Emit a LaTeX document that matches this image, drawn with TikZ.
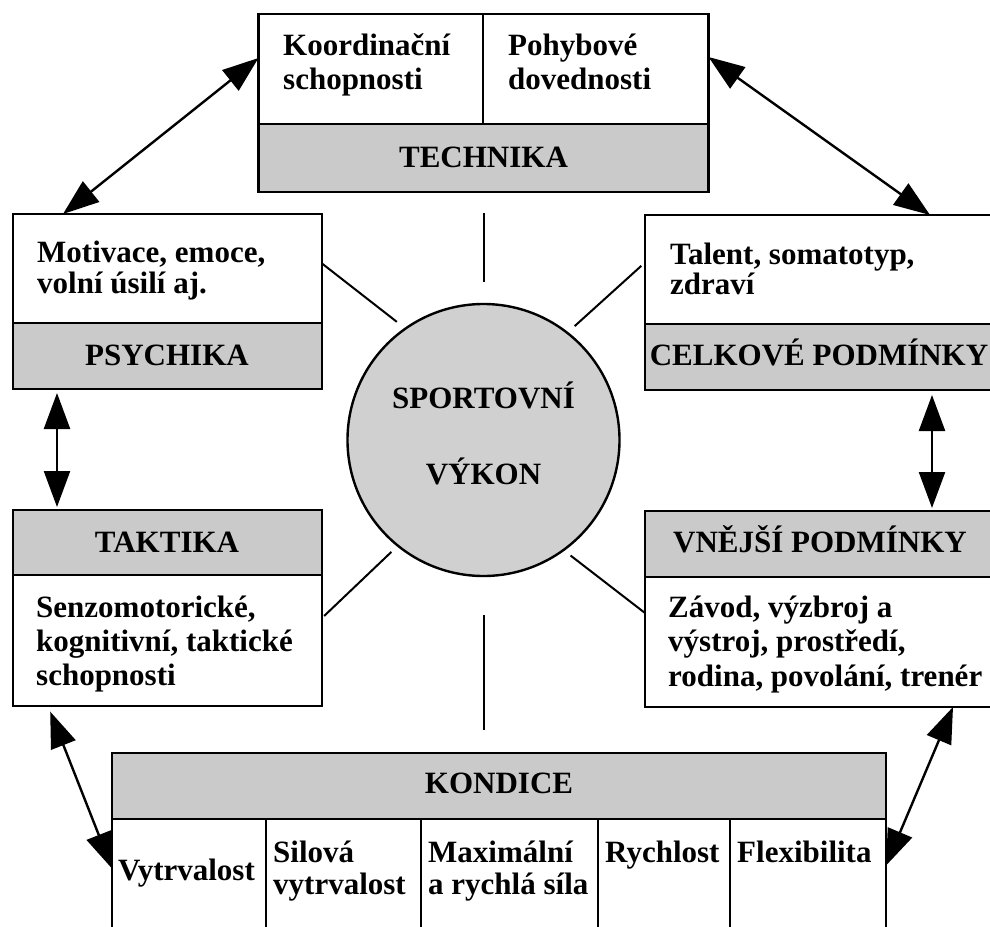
\documentclass[tikz,border=0pt]{standalone}
\usepackage{fontspec}
\setmainfont{Liberation Serif}
\usetikzlibrary{arrows.meta}
\definecolor{hdrgray}{RGB}{202,202,202}
\definecolor{circgray}{RGB}{208,208,208}
\begin{document}
\begin{tikzpicture}[x=1pt,y=-1pt,
  font=\fontsize{31}{34}\selectfont\bfseries,
  box/.style={draw, line width=2.4pt, inner sep=0pt, outer sep=0pt},
  band/.style={fill=hdrgray},
  divl/.style={line width=2.2pt},
  txt/.style={anchor=base west, inner sep=0pt},
  hdr/.style={anchor=base, inner sep=0pt},
  spoke/.style={line width=2pt},
  biarrow/.style={line width=2.4pt, {Triangle[length=36pt,width=26pt]}-{Triangle[length=36pt,width=26pt]}}]
\useasboundingbox (0,0) rectangle (990,926);
\clip (0,0) rectangle (990,926);
\fill[white] (0,0) rectangle (990,926);

% gray header bands
\path[band] (258.5,124) rectangle (708.5,192);
\path[band] (13,323) rectangle (322,389);
\path[band] (645,324) rectangle (1000,390);
\path[band] (13,510) rectangle (322,575);
\path[band] (645,511) rectangle (1000,577);
\path[band] (112,753) rectangle (886,819);

% boxes
\node[box, minimum width=450pt, minimum height=178pt] (tech) at (483.5,103) {};
\node[box, minimum width=309pt, minimum height=175pt] (psy) at (167.5,301.5) {};
\node[box, minimum width=355pt, minimum height=175pt] (cel) at (822.5,302.5) {};
\node[box, minimum width=309pt, minimum height=196pt] (tak) at (167.5,608) {};
\node[box, minimum width=355pt, minimum height=196pt] (vne) at (822.5,609) {};
\node[box, minimum width=774pt, minimum height=187pt] (kon) at (499,846.5) {};
\node[box, circle, fill=circgray, minimum size=272pt] (vykon) at (483.5,440) {};

% dividers
\draw[divl] (258.5,124) -- (708.5,124);
\draw[divl] (483,14) -- (483,124);
\draw[divl] (13,323) -- (322,323);
\draw[divl] (645,324) -- (1000,324);
\draw[divl] (13,575) -- (322,575);
\draw[divl] (645,577) -- (1000,577);
\draw[divl] (112,819) -- (886,819);
\draw[divl] (266,819) -- (266,940);
\draw[divl] (421,819) -- (421,940);
\draw[divl] (598,819) -- (598,940);
\draw[divl] (730,819) -- (730,940);

% texts
\node[txt] (koord) at (283,55) {Koordinační};
\node[txt] (schop1) at (283,89) {schopnosti};
\node[txt] (pohyb) at (508,55) {Pohybové};
\node[txt] (doved) at (508,89) {dovednosti};
\node[hdr] (techt) at (483.5,167) {TECHNIKA};

\node[txt] (mot) at (37,262) {Motivace, emoce,};
\node[txt] (voln) at (37,293) {volní úsilí aj.};
\node[hdr] (psyt) at (167,365) {PSYCHIKA};

\node[txt] (tal) at (670,264) {Talent, somatotyp,};
\node[txt] (zdr) at (670,294) {zdraví};
\node[hdr] (celt) at (819,365) {CELKOVÉ PODMÍNKY};

\node[hdr] (sp1) at (483.5,408) {SPORTOVNÍ};
\node[hdr] (sp2) at (483.5,484) {VÝKON};

\node[hdr] (takt) at (167,552) {TAKTIKA};
\node[txt] (senz) at (36,617) {Senzomotorické,};
\node[txt] (kogn) at (36,651) {kognitivní, taktické};
\node[txt] (schop2) at (36,685) {schopnosti};

\node[hdr] (vnet) at (820,552) {VNĚJŠÍ PODMÍNKY};
\node[txt] (zav) at (668,617) {Závod, výzbroj a};
\node[txt] (vys) at (668,651) {výstroj, prostředí,};
\node[txt] (rod) at (668,686) {rodina, povolání, trenér};

\node[hdr] (kont) at (499,793) {KONDICE};
\node[txt] (vyt) at (118,880) {Vytrvalost};
\node[txt] (sil) at (273,862) {Silová};
\node[txt] (vyt2) at (273,894) {vytrvalost};
\node[txt] (maxi) at (428,862) {Maximální};
\node[txt] (ary) at (428,894) {a rychlá síla};
\node[txt] (ryc) at (605,862) {Rychlost};
\node[txt] (flex) at (737,862) {Flexibilita};

% spokes
\draw[spoke, shorten <=22pt, shorten >=21pt] (vykon.north) -- (vykon.north |- tech.south);
\draw[spoke, shorten <=39pt, shorten >=23pt] (vykon.south) -- (vykon.south |- kon.north);
\draw[spoke, shorten >=11pt] ([yshift=38pt]psy.east) -- (vykon.125);
\draw[spoke, shorten <=5pt, shorten >=10pt] ([yshift=40pt]cel.west) -- (vykon.52);
\draw[spoke, shorten <=3pt, shorten >=9pt] ([yshift=-10pt]tak.east) -- (vykon.231);
\draw[spoke, shorten >=9pt] ([yshift=-4pt]vne.west) -- (vykon.306);

% arrows
\draw[biarrow] ([yshift=-44pt]tech.north west) -- ([xshift=50pt]psy.north west);
\draw[biarrow] ([yshift=-43pt]tech.north east) -- ([xshift=285pt]cel.north west);
\draw[biarrow, shorten <=4pt, shorten >=3pt] ([xshift=44pt]psy.south west) -- ([xshift=44pt]tak.north west);
\draw[biarrow, shorten <=5pt, shorten >=3pt] ([xshift=287pt]cel.south west) -- ([xshift=287pt]vne.north west);
\draw[biarrow, shorten <=6pt] ([xshift=35pt]tak.south west) -- ([yshift=-22pt]kon.west);
\draw[biarrow] ([xshift=308pt]vne.south west) -- ([yshift=-19pt]kon.east);
\end{tikzpicture}
\end{document}
